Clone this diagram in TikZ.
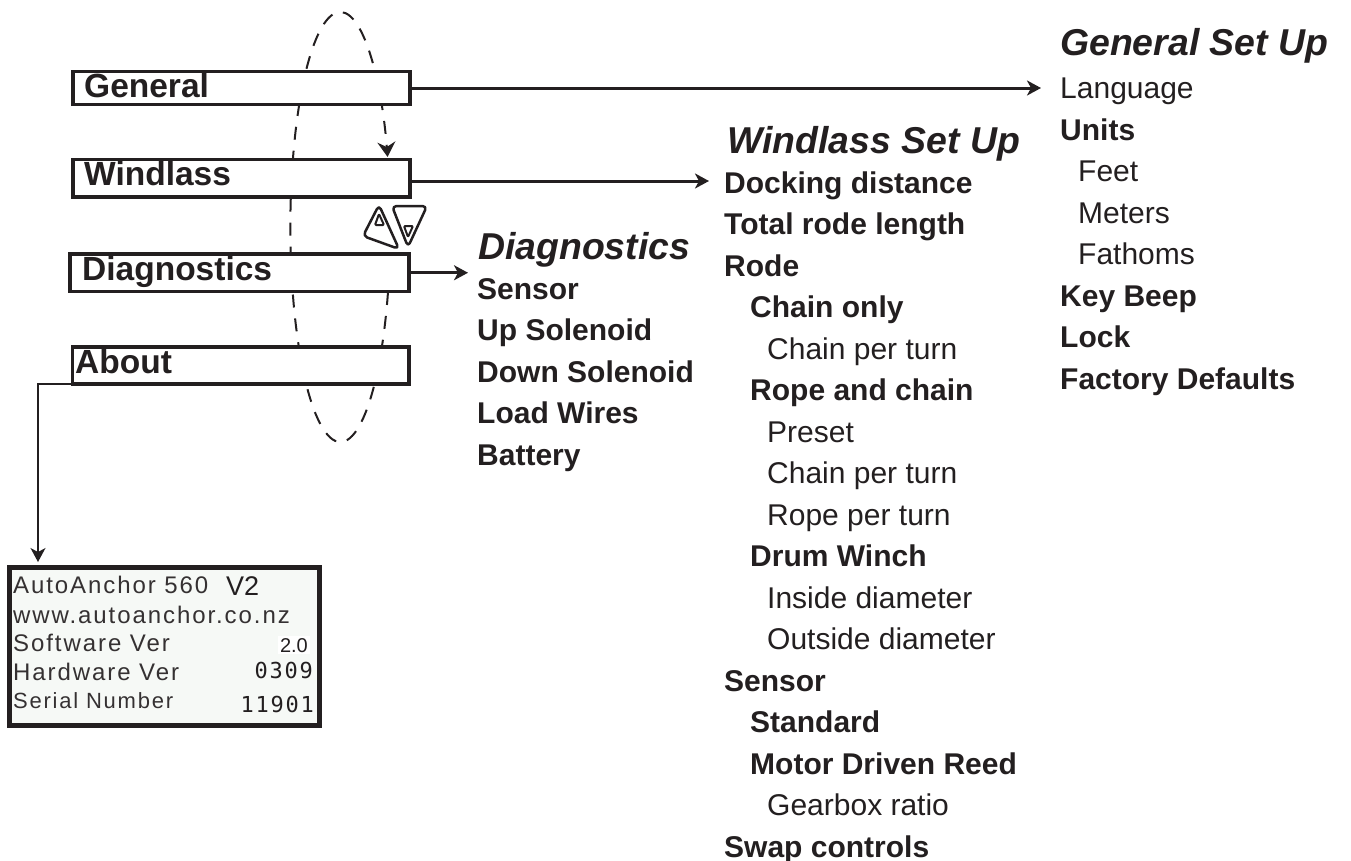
\documentclass[tikz,border=0pt]{standalone}
\usepackage{fontspec}
\usepackage{xcolor}
\usetikzlibrary{arrows.meta}
\setmainfont{Liberation Sans}
\newfontfamily\lcdfont[LetterSpace=8]{Liberation Sans}
\newfontfamily\lcdnum[LetterSpace=8]{DejaVu Sans Mono}
\definecolor{inkdark}{HTML}{231F20}
\definecolor{lcdback}{HTML}{F6F9F6}
\begin{document}
\begin{tikzpicture}[
    x=1pt, y=-1pt, color=inkdark,
    >={Stealth[length=14pt, width=15pt, inset=4pt]},
    menubox/.style={rectangle, draw=inkdark, fill=white, line width=3.5pt, anchor=north west, inner sep=0pt, outer sep=0pt},
    menutext/.style={anchor=base west, inner sep=0pt, font=\fontsize{33.5}{36}\selectfont\bfseries},
    headtext/.style={anchor=base west, inner sep=0pt, font=\fontsize{37.4}{40}\selectfont\bfseries\itshape},
    boldtext/.style={anchor=base west, inner sep=0pt, font=\fontsize{30}{36}\selectfont\bfseries},
    plaintext/.style={anchor=base west, inner sep=0pt, font=\fontsize{30}{36}\selectfont},
    lcdtext/.style={anchor=base west, inner sep=0pt, text=inkdark!92, font=\fontsize{24}{26}\selectfont\lcdfont},
    lcdvalue/.style={anchor=base east, inner sep=0pt, font=\fontsize{22}{24}\selectfont\lcdnum},
    mainline/.style={line width=3pt, ->},
    softkey/.style={line width=2.5pt, rounded corners=4.5pt, line join=round}
]

\useasboundingbox (0,0) rectangle (1351,860);

% Scroll loop, behind the menu
\draw[line width=2pt, dash pattern=on 13pt off 11pt, ->, >={Stealth[length=15pt, width=18pt, inset=5pt]}] (388,292) arc[start angle=17.6, end angle=341, x radius=50, y radius=215];

% Menu boxes
\node[menubox, minimum width=337pt, minimum height=33pt] at (73,71.5) (general) {};
\node[menubox, minimum width=337pt, minimum height=37.5pt] at (73,159.5) (windlass) {};
\node[menubox, minimum width=339pt, minimum height=37.5pt] at (70,254) (diagnostics) {};
\node[menubox, minimum width=336.5pt, minimum height=37pt] at (72.5,347) (about) {};
\node[menutext] at (84,97) (generaltext) {General};
\node[menutext] at (84,185) (windlasstext) {Windlass};
\node[menutext] at (82,280) (diagnosticstext) {Diagnostics};
\node[menutext] at (75,373) (abouttext) {About};

% Up and down keys
\draw[softkey] (379,205) -- (399,249) -- (363,236) -- cycle;
\draw[softkey, line width=2pt, rounded corners=1pt] (379,214) -- (384,225) -- (375,225) -- cycle;
\draw[softkey] (392,206) -- (427,206) -- (408,247) -- cycle;
\draw[softkey, line width=2pt, rounded corners=1pt] (404,226) -- (413,226) -- (408,237) -- cycle;

% General list
\node[headtext] at (1060,55) (generalhead) {General Set Up};
\node[plaintext] at (1060,98) (language) {Language};
\node[boldtext] at (1060,140) (units) {Units};
\node[plaintext] at (1078,181) (feet) {Feet};
\node[plaintext] at (1078,223) (meters) {Meters};
\node[plaintext] at (1078,264) (fathoms) {Fathoms};
\node[boldtext] at (1060,306) (keybeep) {Key Beep};
\node[boldtext] at (1060,347) (lock) {Lock};
\node[boldtext] at (1060,389) (defaults) {Factory Defaults};

% Windlass list
\node[headtext] at (727,153) (windlasshead) {Windlass Set Up};
\node[boldtext] at (724,193) (docking) {Docking distance};
\node[boldtext] at (724,234) (rodelength) {Total rode length};
\node[boldtext] at (724,276) (rode) {Rode};
\node[boldtext] at (750,317) (chainonly) {Chain only};
\node[plaintext] at (767,359) (chainturna) {Chain per turn};
\node[boldtext] at (750,400) (ropechain) {Rope and chain};
\node[plaintext] at (767,442) (preset) {Preset};
\node[plaintext] at (767,483) (chainturnb) {Chain per turn};
\node[plaintext] at (767,525) (ropeturn) {Rope per turn};
\node[boldtext] at (750,566) (drumwinch) {Drum Winch};
\node[plaintext] at (767,608) (insidedia) {Inside diameter};
\node[plaintext] at (767,649) (outsidedia) {Outside diameter};
\node[boldtext] at (724,691) (sensorw) {Sensor};
\node[boldtext] at (750,732) (standard) {Standard};
\node[boldtext] at (750,774) (motorreed) {Motor Driven Reed};
\node[plaintext] at (767,815) (gearbox) {Gearbox ratio};
\node[boldtext] at (724,857) (swap) {Swap controls};

% Diagnostics list
\node[headtext] at (478,259) (diagnosticshead) {Diagnostics};
\node[boldtext] at (477,299) (sensord) {Sensor};
\node[boldtext] at (477,340) (upsol) {Up Solenoid};
\node[boldtext] at (477,382) (downsol) {Down Solenoid};
\node[boldtext] at (477,423) (loadwires) {Load Wires};
\node[boldtext] at (477,465) (battery) {Battery};

% About screen
\node[menubox, draw=inkdark, fill=lcdback, line width=5pt, minimum width=310pt, minimum height=158pt] at (9.5,567.5) (screen) {};
\node[lcdtext] at (13,593) (model) {AutoAnchor 560};
\node[anchor=base west, inner sep=0pt, font=\fontsize{27}{30}\selectfont] at (226,595) (version) {V2};
\node[lcdtext] at (13,623) (website) {www.autoanchor.co.nz};
\node[lcdtext] at (13,651) (softver) {Software Ver};
\node[lcdtext] at (13,680) (hardver) {Hardware Ver};
\node[lcdtext, font=\fontsize{22}{26}\selectfont\lcdfont] at (13,708) (serial) {Serial Number};
\node[anchor=base east, inner sep=2pt, fill=white, font=\fontsize{20}{22}\selectfont] at (310,652) (softval) {2.0};
\node[lcdvalue] at (313,678) (hardval) {0309};
\node[lcdvalue] at (314,712) (serialval) {11901};

% Connectors
\coordinate (generaltip) at (1041,88);
\coordinate (windlasstip) at (709,181);
\coordinate (diagnosticstip) at (468,272.75);
\coordinate (abouttip) at (38,562);
\draw[mainline] (general.east) -- (general.east -| generaltip);
\draw[mainline] (410,181) -- (windlasstip);
\draw[mainline] (diagnostics.east) -- (diagnostics.east -| diagnosticstip);
\draw[line width=1.5pt, ->] (about.south west) -| (abouttip);

\end{tikzpicture}
\end{document}
